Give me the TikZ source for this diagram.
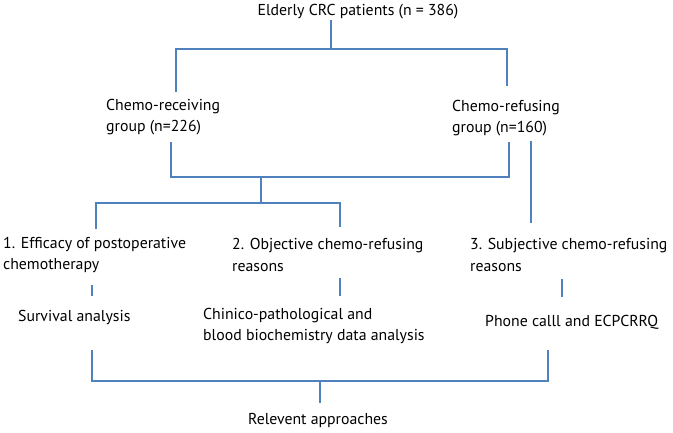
\documentclass[tikz,border=0pt]{standalone}
\usepackage{fontspec}
\setmainfont{PT Sans}
\definecolor{linec}{HTML}{4F81BD}
\begin{document}
\begin{tikzpicture}[x=1pt,y=-1pt,
  lbl/.style={inner sep=0pt,anchor=west,align=left,font=\fontsize{15.8}{21.5}\selectfont},
  conn/.style={draw=linec,line width=1.3pt}]
\useasboundingbox (0,0) rectangle (673,433);
\fill[white] (0,0) rectangle (673,433);
% text nodes
\node[lbl,anchor=center] (top) at (358,12) {Elderly CRC patients (n = 386)};
\node[lbl] (recv) at (106,117) {Chemo-receiving\\group (n=226)};
\node[lbl] (refu) at (452,118) {Chemo-refusing\\group (n=160)};
\node[lbl] (eff) at (3,255) {1. Efficacy of postoperative\\chemotherapy};
\node[lbl] (obj) at (232,255) {2. Objective chemo-refusing\\reasons};
\node[lbl] (subj) at (470,255) {3. Subjective chemo-refusing\\reasons};
\node[lbl] (surv) at (18,317) {Survival analysis};
\node[lbl] (chin) at (203,326) {Chinico-pathological and\\blood biochemistry data analysis};
\node[lbl] (phone) at (485,322) {Phone calll and ECPCRRQ};
\node[lbl,anchor=center] (rel) at (318,420) {Relevent approaches};
% connector end points
\coordinate (t0) at (331,20);
\coordinate (t1) at (331,49);
\coordinate (r0) at (176,92);
\coordinate (f0) at (507,86);
\coordinate (r1) at (171,142);
\coordinate (f1) at (509,142);
\coordinate (m1) at (261,177);
\coordinate (m2) at (261,203);
\coordinate (e0) at (96,229);
\coordinate (o0) at (340,227);
\coordinate (s0) at (531,141);
\coordinate (s1) at (531,223);
\coordinate (e1) at (92,285);
\coordinate (e2) at (92,296);
\coordinate (o1) at (340,278);
\coordinate (o2) at (340,296);
\coordinate (p1) at (562,279);
\coordinate (p2) at (562,297);
\coordinate (b0) at (92,350);
\coordinate (b1) at (548,350);
\coordinate (b2) at (320,381);
\coordinate (b3) at (320,403);
% connectors
\draw[conn] (t0) -- (t1);
\draw[conn] (r0) |- (t1) -| (f0);
\draw[conn] (r1) |- (m1) -| (f1);
\draw[conn] (m1) -- (m2);
\draw[conn] (e0) |- (m2) -| (o0);
\draw[conn] (s0) -- (s1);
\draw[conn] (e1) -- (e2);
\draw[conn] (o1) -- (o2);
\draw[conn] (p1) -- (p2);
\draw[conn] (b0) |- (b2) -| (b1);
\draw[conn] (b2) -- (b3);
\end{tikzpicture}
\end{document}
